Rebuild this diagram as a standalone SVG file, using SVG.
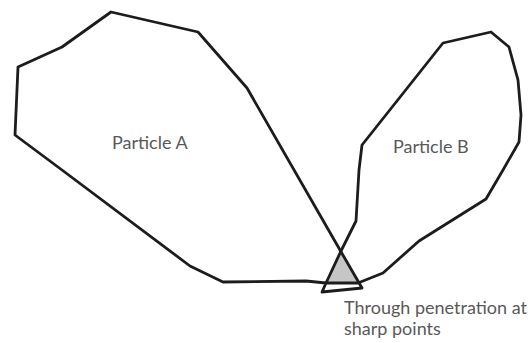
<svg xmlns="http://www.w3.org/2000/svg" width="532" height="343" viewBox="0 0 532 343">
<style>
.o{fill:none;stroke:#1c1c1c;stroke-width:2.8;stroke-linejoin:round;stroke-linecap:round}
.t{font-family:Lato,"Open Sans",sans-serif;font-size:18px;fill:#595959}
</style>
<rect width="532" height="343" fill="#fff"/>
<g id="contact">
<polygon points="340,250 326,283 358,283" fill="#c6c6c6"/>
</g>
<g id="particleA">
<polyline class="o" points="362,288 322,292 326,283 306,281 223,282 190,266 62,170 15,135 18,67 62,47 111,12 198,32 247,88 340,250 362,288"/>
<text class="t" x="112" y="149">Particle A</text>
</g>
<g id="particleB">
<polyline class="o" points="503,170 519,142 521,115 518,80 509,47 491,32 443,43 362,145 359,170 356,221 341,251 326,283 358,283 383,273 419,241 486,199 503,170"/>
<text class="t" x="393" y="153">Particle B</text>
</g>
<g id="label">
<text class="t" x="344" y="314">Through penetration at</text>
<text class="t" x="344" y="335">sharp points</text>
</g>
</svg>
